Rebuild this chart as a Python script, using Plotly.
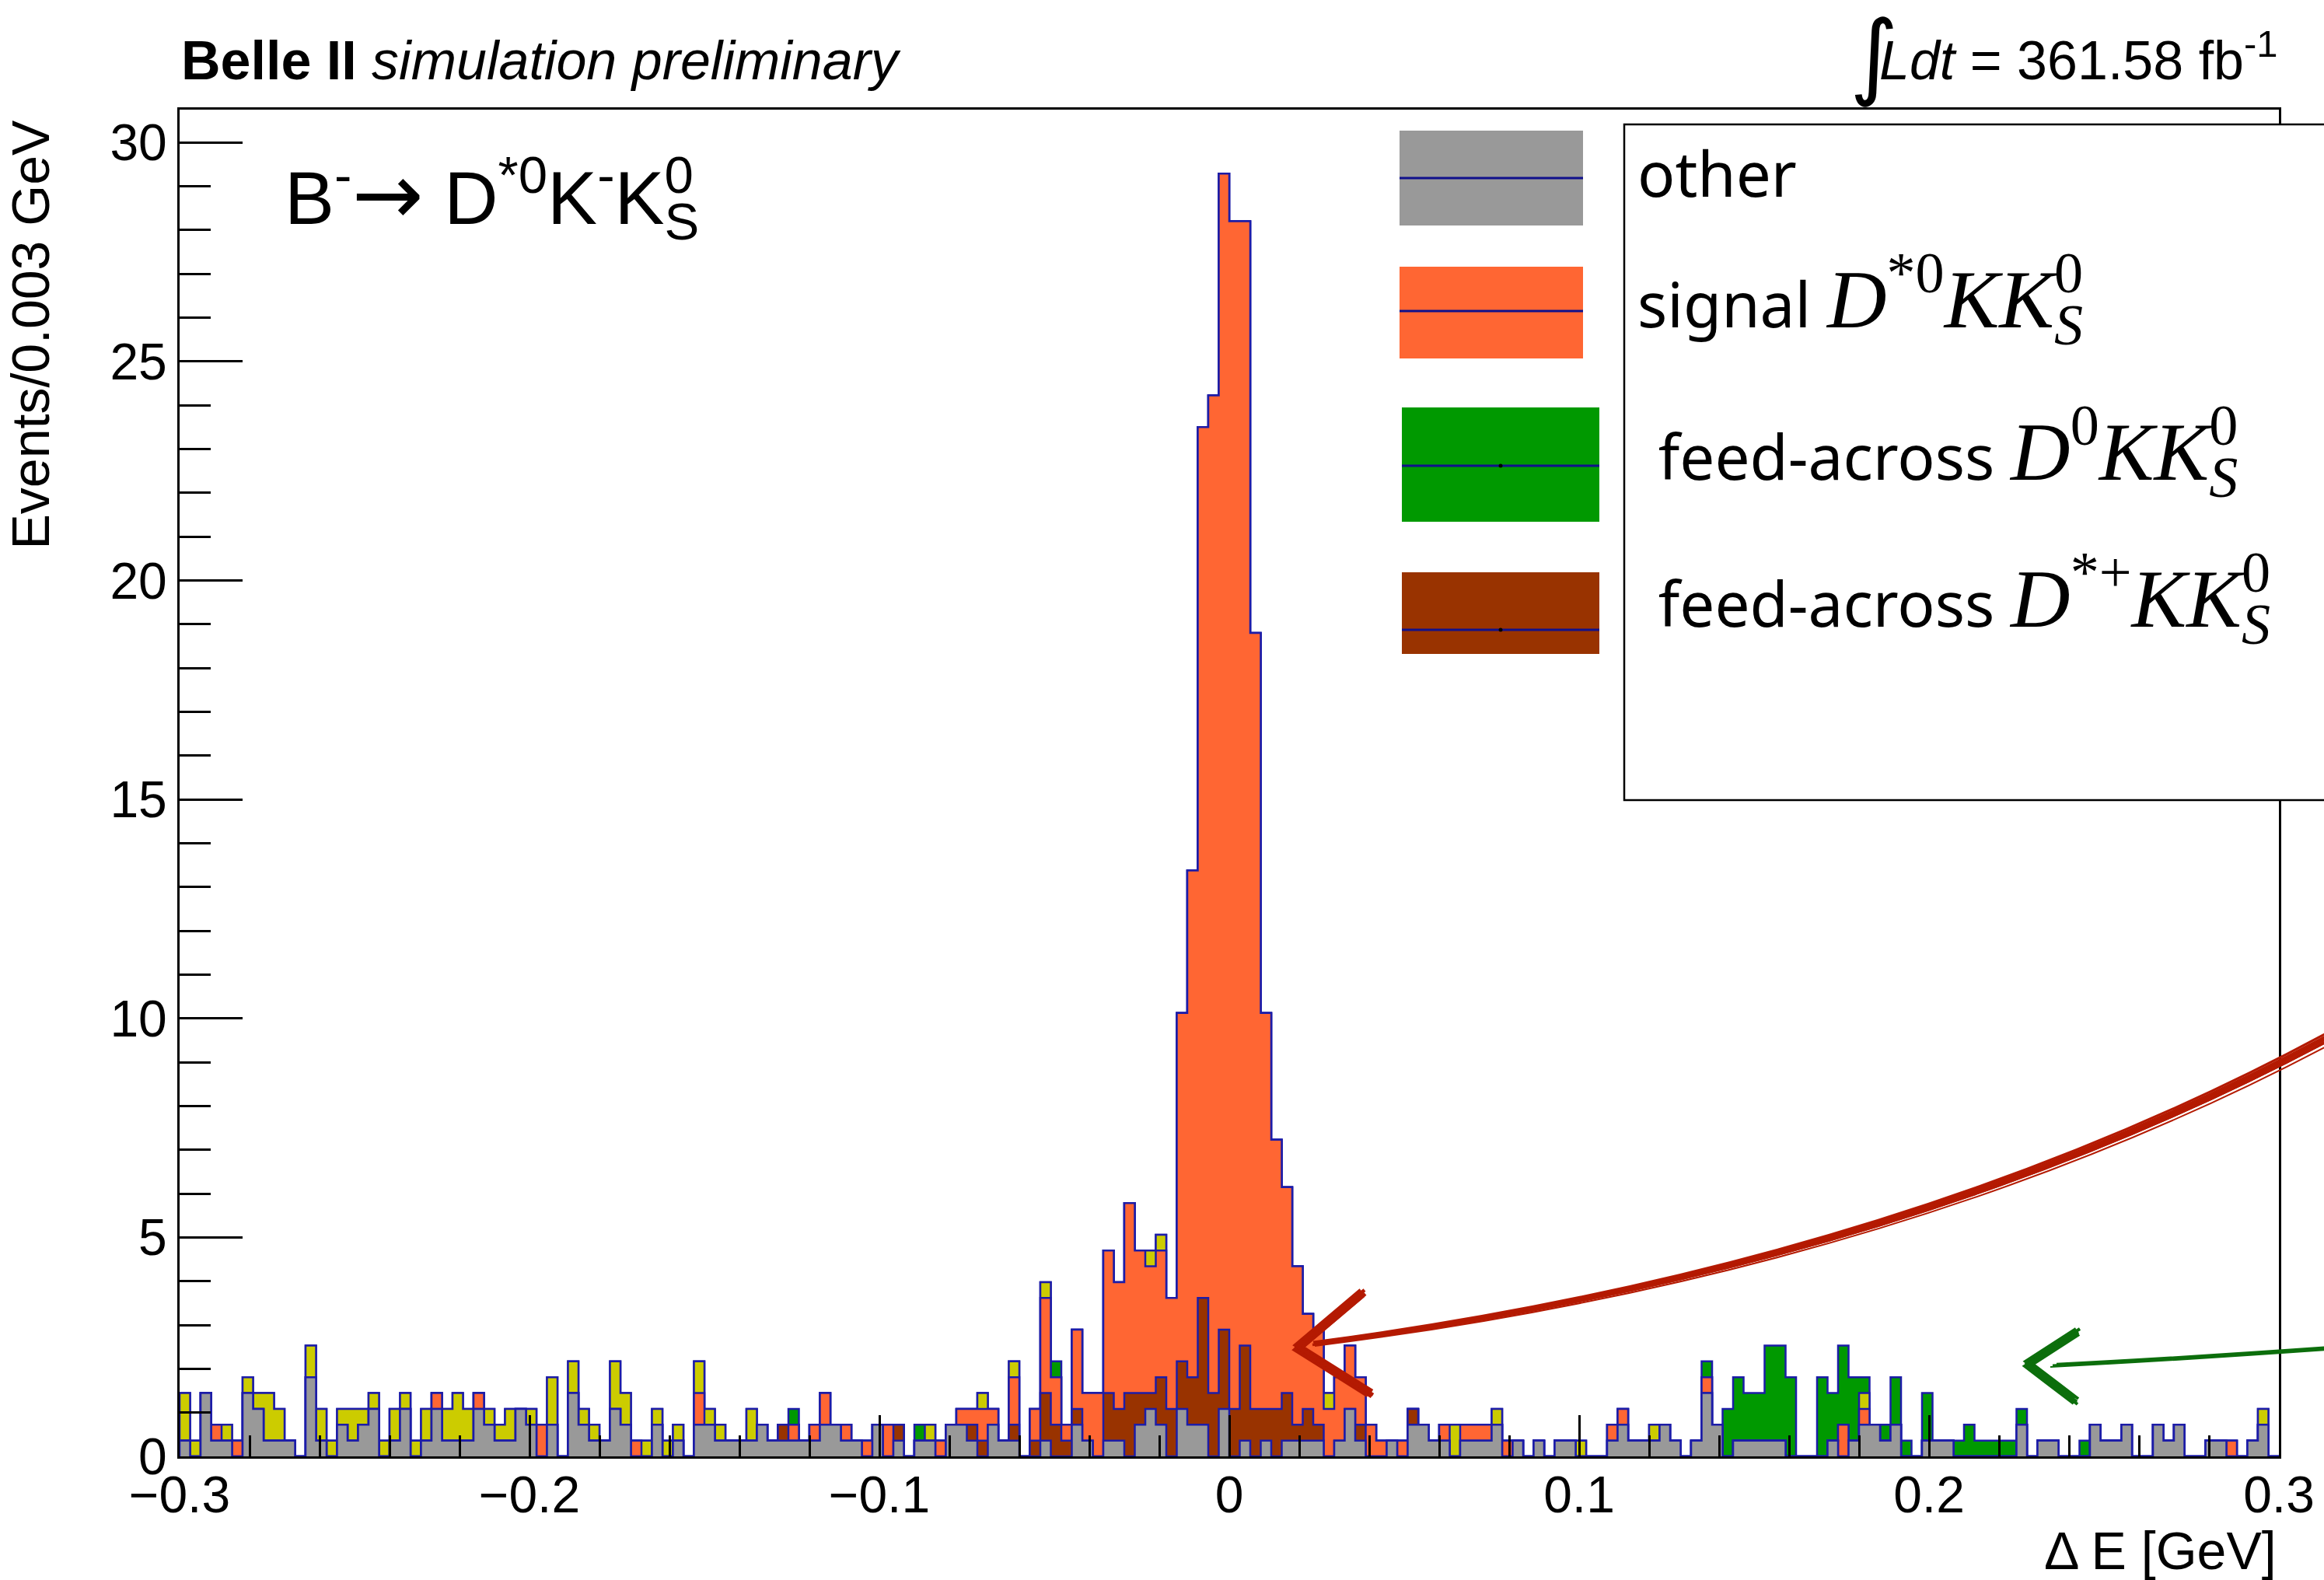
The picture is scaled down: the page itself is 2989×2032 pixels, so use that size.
import numpy as np
import plotly.graph_objects as go

# ---------------- data (event counts per 0.003 GeV bin) -------------
LUMI_SCALE = 361.58 / 1000.0          # MC event weight (scaled to 361.58 fb^-1)
DE_MIN, DE_MAX, N_BINS = -0.3, 0.3, 200

other_counts = [
    1,0,4,1,1,0,4,3,1,1,  1,0,5,1,0,2,1,2,3,0,  1,3,0,1,3,1,1,1,3,2,  1,1,3,2,0,2,0,4,2,1,
    1,3,2,0,0,2,0,1,0,2,  2,1,1,1,1,2,1,1,1,1,  1,2,2,1,1,0,2,0,1,0,  1,1,0,2,2,1,0,2,1,1,
    0,0,1,0,0,2,1,0,1,1,  0,2,3,2,0,3,2,2,0,3,  0,1,0,1,0,1,1,1,1,0,  1,3,1,0,0,1,0,2,2,1,
    1,0,1,1,1,2,0,1,0,1,  0,1,1,0,0,0,1,2,1,1,  1,2,1,0,1,4,2,0,1,1,  1,1,1,0,0,0,0,1,0,1,
    2,2,1,2,0,0,1,1,1,0,  0,0,0,0,0,2,0,1,1,0,  0,0,2,1,1,2,0,0,2,1,  2,0,0,1,1,0,0,1,2,0,
]
feed_dstarp_counts = [
    0,0,0,0,0,0,0,0,0,0,  0,0,0,0,0,0,0,0,0,0,  0,0,0,0,0,0,0,0,0,0,  0,0,0,0,0,0,0,0,0,0,
    0,0,0,0,0,0,0,0,0,0,  0,0,0,0,0,0,0,1,0,0,  0,0,0,0,0,0,0,0,1,0,  0,0,0,0,0,1,1,0,0,1,
    0,1,3,2,1,1,0,0,3,2,  4,2,1,3,3,3,3,8,4,5,  3,6,3,2,3,3,1,2,1,0,  0,0,1,0,0,0,0,1,0,0,
    0,0,0,0,0,0,0,0,0,0,  0,0,0,0,0,0,0,0,0,0,  0,0,0,0,0,0,0,0,0,0,  0,0,0,0,0,0,0,0,0,0,
    0,0,0,0,0,0,0,0,0,0,  0,0,0,0,0,0,0,0,0,0,  0,0,0,0,0,0,0,0,0,0,  0,0,0,0,0,0,0,0,0,0,
]
signal_counts = [
    0,0,0,1,0,1,0,0,0,0,  0,0,0,0,0,0,0,0,0,0,  0,0,0,0,1,0,0,0,1,0,  0,0,0,0,2,0,0,0,0,0,
    0,0,0,1,0,0,0,0,0,2,  0,0,0,0,0,0,0,0,1,0,  1,2,0,1,0,1,0,2,0,0,  0,0,1,0,1,1,2,1,0,3,
    0,2,6,3,1,5,3,4,9,8,  12,9,8,8,7,22,32,55,63,73,  75,71,49,25,17,13,10,6,6,3,  4,4,3,2,1,0,1,0,0,0,
    1,0,1,1,1,0,1,0,0,0,  0,0,0,0,0,0,1,1,0,0,  0,0,0,0,0,1,0,0,0,0,  0,0,0,0,0,0,0,0,2,0,
    1,0,0,0,0,0,0,0,0,0,  0,0,0,0,0,0,0,0,0,0,  0,0,0,0,0,0,0,0,0,0,  0,0,0,0,0,1,0,0,0,0,
]
misc_counts = [
    3,1,0,0,1,0,1,1,3,2,  0,0,2,2,1,1,2,1,1,1,  2,1,1,2,0,2,3,2,0,1,  1,2,0,1,0,3,0,2,1,1,
    0,3,2,0,1,1,1,1,0,2,  1,1,0,0,2,0,0,0,0,0,  0,0,0,0,0,0,0,0,0,0,  0,1,0,0,0,0,1,0,0,1,
    0,0,1,0,0,0,0,0,0,0,  0,0,1,1,0,0,0,0,0,0,  0,0,0,0,0,0,0,0,0,1,  0,0,0,0,0,0,0,0,0,0,
    0,2,0,0,0,1,0,0,0,0,  0,0,0,1,0,0,0,0,0,0,  1,0,0,0,0,0,0,0,0,0,  0,0,0,0,0,0,0,0,0,0,
    1,0,0,0,0,0,0,0,0,0,  0,0,0,0,0,0,0,0,0,0,  0,0,0,0,0,0,0,0,0,0,  0,0,0,0,0,0,0,0,1,0,
]
feed_d0_counts = [
    0,0,0,0,0,0,0,0,0,0,  0,0,0,0,0,0,0,0,0,0,  0,0,0,0,0,0,0,0,0,0,  0,0,0,0,0,0,0,0,0,0,
    0,0,0,0,0,0,0,0,0,0,  0,0,0,0,0,0,0,0,1,0,  0,0,0,0,0,0,0,0,0,0,  1,0,0,0,0,0,0,0,0,0,
    0,0,0,1,0,0,0,0,0,0,  0,0,0,0,0,0,0,0,0,0,  0,0,0,0,0,0,0,0,0,0,  0,0,0,0,0,0,0,0,0,0,
    0,0,0,0,0,0,0,0,0,0,  0,0,0,0,0,0,0,0,0,0,  0,0,0,0,0,1,0,3,4,3,  3,6,6,5,0,0,5,3,5,4,
    1,0,1,3,1,0,3,0,0,1,  2,1,1,1,1,1,0,0,0,0,  0,1,0,0,0,0,0,0,0,0,  0,0,0,0,0,0,0,0,0,0,
]

X_TICKS = [-0.3, -0.2, -0.1, 0.0, 0.1, 0.2, 0.3]
X_TICK_LABELS = ["\u22120.3", "\u22120.2", "\u22120.1", "0", "0.1", "0.2", "0.3"]
Y_RANGE = [0, 30.75]

# ---------------- style ----------------
W, H = 2989, 2032
L, R, T, B = 231, 2931, 141, 1873
PW, PH = R - L, B - T
OUTLINE = "#1c1ca8"
SANS = "Liberation Sans, Arial, Helvetica, sans-serif"
LEG_FONT = "Noto Sans, Open Sans, sans-serif"
SERIF = "Liberation Serif, Times New Roman, serif"

layers = [  # bottom -> top of the stack
    ("other", other_counts, "#999999"),
    ("feed-across D*+", feed_dstarp_counts, "#993300"),
    ("signal", signal_counts, "#ff6633"),
    ("misc", misc_counts, "#cccc00"),
    ("feed-across D0", feed_d0_counts, "#009900"),
]

edges = np.linspace(DE_MIN, DE_MAX, N_BINS + 1)
cum = np.zeros(N_BINS)
stacked = []
for name, counts, color in layers:
    cum = cum + np.asarray(counts, dtype=float) * LUMI_SCALE
    stacked.append((name, cum.copy(), color))

fig = go.Figure()
for name, c, color in reversed(stacked):   # draw total first, like THStack
    xs = np.concatenate([[edges[0]], edges[:-1], [edges[-1], edges[-1]]])
    ys = np.concatenate([[0.0], c, [c[-1], 0.0]])
    fig.add_trace(go.Scatter(
        x=xs, y=ys, mode="lines", name=name, showlegend=False, hoverinfo="skip",
        line=dict(shape="hv", color=OUTLINE, width=2.5),
        fill="tozeroy", fillcolor=color))


def px(x):
    return (x - L) / PW


def py(y):
    return (B - y) / PH


def P(x, y):
    return f"{px(x):.5f},{py(y):.5f}"


shapes = []
# legend box (white, covers frame edge)
shapes.append(dict(type="rect", xref="paper", yref="paper", layer="above",
                   x0=px(2089), x1=px(3060), y0=py(1029), y1=py(160),
                   line=dict(color="black", width=2.5), fillcolor="white"))
swatches = [
    ("#999999", 1800, 2036, 168, 290, 229, False),
    ("#ff6633", 1800, 2036, 343, 461, 400, False),
    ("#009900", 1803, 2057, 524, 671, 599, True),
    ("#993300", 1803, 2057, 736, 841, 810, True),
]
for col, x0, x1, y0, y1, yl, dot in swatches:
    shapes.append(dict(type="rect", xref="paper", yref="paper", layer="above",
                       x0=px(x0), x1=px(x1), y0=py(y1), y1=py(y0),
                       line=dict(width=0), fillcolor=col))
    shapes.append(dict(type="line", xref="paper", yref="paper", layer="above",
                       x0=px(x0), x1=px(x1), y0=py(yl), y1=py(yl),
                       line=dict(color="#10108c", width=3)))
    if dot:
        xc = (x0 + x1) / 2
        shapes.append(dict(type="circle", xref="paper", yref="paper", layer="above",
                           x0=px(xc - 2.5), x1=px(xc + 2.5), y0=py(yl + 2.5), y1=py(yl - 2.5),
                           line=dict(width=0), fillcolor="black"))

# hand-drawn arrows (several rough strokes)
RED, GREEN = "#b41a02", "#0c6e0c"
red_strokes = [(0, 0, 4), (3, -3, 3.5), (-2, 3, 3.5), (2, 2, 3), (-1, -4, 3), (5, 1, 2.5), (1, 6, 2)]
for dx, dy, w in red_strokes:
    shapes.append(dict(type="path", xref="paper", yref="paper", layer="above",
                       path=f"M {P(1690+dx, 1728+dy*0.5)} Q {P(2450+dx, 1630+dy)} {P(3010+dx, 1326+dy*1.6)}",
                       line=dict(color=RED, width=w)))
for dx, dy in [(0, 0), (3, -3), (-3, 3), (2, 4), (-2, -3), (4, 2), (1, -1)]:
    shapes.append(dict(type="path", xref="paper", yref="paper", layer="above",
                       path=f"M {P(1752+dx, 1662+dy)} L {P(1668+dx, 1733+dy)} L {P(1762+dx, 1792+dy)}",
                       line=dict(color=RED, width=4.5)))
for dx, dy, w in [(0, 0, 3), (5, -2, 2.5), (-3, 2, 2)]:
    shapes.append(dict(type="path", xref="paper", yref="paper", layer="above",
                       path=f"M {P(2640+dx, 1756+dy)} Q {P(2800+dx, 1748+dy)} {P(3010+dx, 1733+dy)}",
                       line=dict(color=GREEN, width=w)))
for dx, dy in [(0, 0), (3, -3), (-3, 3), (2, 4), (-2, -3), (1, 1)]:
    shapes.append(dict(type="path", xref="paper", yref="paper", layer="above",
                       path=f"M {P(2672+dx, 1712+dy)} L {P(2607+dx, 1754+dy)} L {P(2670+dx, 1802+dy)}",
                       line=dict(color=GREEN, width=4)))

ann = []


def add_text(text, x, y, size, family=SANS, xanchor="left", yanchor="middle", angle=0, color="black"):
    ann.append(dict(text=text, x=px(x), y=py(y), xref="paper", yref="paper",
                    xanchor=xanchor, yanchor=yanchor, showarrow=False, textangle=angle,
                    font=dict(size=size, family=family, color=color)))


def stacked_subsup(sub, sup, back_em):
    # subscript and superscript drawn on top of each other (TLatex style)
    return (f"<sub><span style=\"letter-spacing:-{back_em}em\">{sub}</span></sub>"
            f"<sup>{sup}</sup>")


add_text("<b>Belle II</b> <i>simulation preliminary</i>", 231, 78, 70)
add_text("\u222b", 2410, 70, 120, family="DejaVu Sans", xanchor="center")
add_text("<i>Ldt</i> = 361.58 fb<sup>-1</sup>", 2932, 73, 70, xanchor="right")

arrow = "<span style=\"font-family:DejaVu Sans;font-size:110px\">\u2192</span>"
add_text("B<sup>-</sup>" + arrow + " D<sup>*0</sup>K<sup>-</sup>K" + stacked_subsup("S", "0", 0.667),
         364, 250, 96)
add_text("Events/0.003 GeV", 38, 152, 68, angle=-90, xanchor="center", yanchor="top")
add_text("\u0394 E [GeV]", 2930, 1994, 68, xanchor="right")

math = lambda s: f"<span style=\"font-family:{SERIF};font-size:106px\">{s}</span>"
KKS = "<i>KK</i>" + stacked_subsup("<i>S</i>", "0", 0.5)
add_text("other", 2104, 222, 80, family=LEG_FONT)
add_text("signal " + math("<i>D</i><sup>*0</sup>" + KKS), 2104, 377, 80, family=LEG_FONT)
add_text(" feed-across " + math("<i>D</i><sup>0</sup>" + KKS), 2110, 573, 80, family=LEG_FONT)
add_text(" feed-across " + math("<i>D</i><sup>*+</sup>" + KKS), 2110, 762, 80, family=LEG_FONT)

axis_common = dict(showline=True, linecolor="black", linewidth=3, mirror=True,
                   showgrid=False, zeroline=False, ticks="inside", tickcolor="black",
                   tickwidth=2.5, tickfont=dict(size=66, family=SANS, color="black"))

fig.update_layout(
    width=W, height=H, autosize=False,
    margin=dict(l=L, r=W - R, t=T, b=H - B, pad=0),
    paper_bgcolor="white", plot_bgcolor="white", showlegend=False,
    xaxis=dict(range=[DE_MIN, DE_MAX], tickvals=X_TICKS, ticktext=X_TICK_LABELS,
               ticklen=53, ticklabelstandoff=-10,
               minor=dict(dtick=0.02, tick0=DE_MIN, ticks="inside", ticklen=27,
                          tickwidth=2.5, tickcolor="black", showgrid=False),
               **axis_common),
    yaxis=dict(range=Y_RANGE, dtick=5, tick0=0, ticklen=81,
               minor=dict(dtick=1, tick0=0, ticks="inside", ticklen=40, tickwidth=2.5,
                          tickcolor="black", showgrid=False),
               **axis_common),
    shapes=shapes, annotations=ann,
)

fig.write_html("out.html", config=dict(displayModeBar=False),
               post_script="document.body.style.margin='0px';document.body.style.overflow='hidden';")
